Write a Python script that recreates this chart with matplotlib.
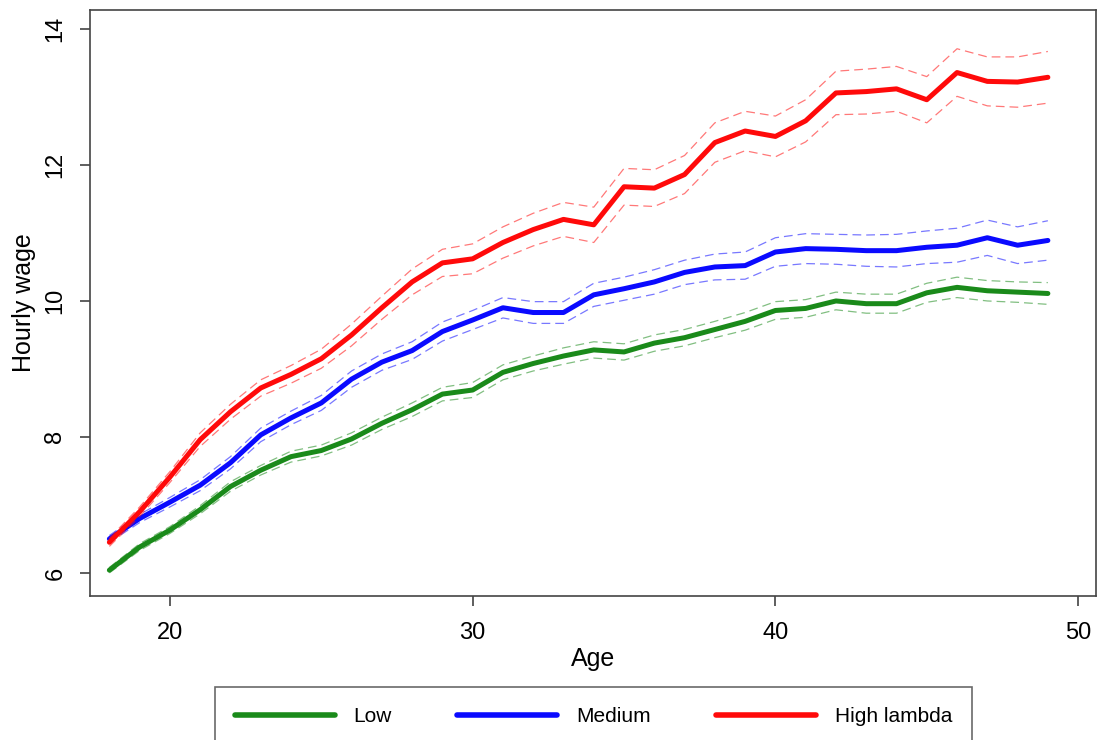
import matplotlib

matplotlib.use("Agg")
import matplotlib.pyplot as plt

plt.rcParams["font.family"] = ["Liberation Sans", "DejaVu Sans"]

# Age profile of hourly wages, three lambda groups
ages = list(range(18, 50))

wage_low = [6.04, 6.38, 6.63, 6.93, 7.27, 7.51, 7.71, 7.80, 7.97, 8.20,
            8.40, 8.63, 8.69, 8.95, 9.08, 9.19, 9.28, 9.25, 9.38, 9.46,
            9.58, 9.70, 9.86, 9.89, 10.00, 9.96, 9.96, 10.12, 10.20, 10.15,
            10.13, 10.11]
wage_medium = [6.50, 6.80, 7.04, 7.29, 7.62, 8.03, 8.28, 8.50, 8.85, 9.10,
               9.27, 9.55, 9.72, 9.90, 9.83, 9.83, 10.09, 10.18, 10.28, 10.42,
               10.50, 10.52, 10.72, 10.77, 10.76, 10.74, 10.74, 10.79, 10.82, 10.93,
               10.82, 10.89]
wage_high = [6.45, 6.90, 7.41, 7.96, 8.37, 8.72, 8.92, 9.15, 9.50, 9.90,
             10.28, 10.56, 10.62, 10.86, 11.05, 11.20, 11.12, 11.68, 11.66, 11.86,
             12.33, 12.50, 12.42, 12.65, 13.06, 13.08, 13.12, 12.96, 13.36, 13.23,
             13.22, 13.29]

# half-width of the dashed confidence bands
ci_low = [0.04, 0.05, 0.05, 0.06, 0.07, 0.07, 0.08, 0.08, 0.09, 0.09,
          0.10, 0.10, 0.11, 0.11, 0.11, 0.12, 0.12, 0.12, 0.12, 0.12,
          0.12, 0.13, 0.13, 0.13, 0.13, 0.14, 0.14, 0.14, 0.15, 0.15,
          0.15, 0.16]
ci_medium = [0.05, 0.06, 0.07, 0.08, 0.09, 0.10, 0.10, 0.11, 0.12, 0.12,
             0.13, 0.14, 0.14, 0.15, 0.16, 0.16, 0.17, 0.17, 0.18, 0.18,
             0.19, 0.20, 0.21, 0.22, 0.22, 0.23, 0.24, 0.24, 0.25, 0.26,
             0.27, 0.29]
ci_high = [0.06, 0.07, 0.08, 0.10, 0.11, 0.12, 0.13, 0.14, 0.16, 0.17,
           0.19, 0.20, 0.22, 0.23, 0.24, 0.25, 0.26, 0.27, 0.27, 0.28,
           0.29, 0.29, 0.30, 0.31, 0.32, 0.33, 0.33, 0.34, 0.35, 0.36,
           0.37, 0.38]

series = [
    ("Low", wage_low, ci_low, "#1a8a1a"),
    ("Medium", wage_medium, ci_medium, "#0a0aff"),
    ("High lambda", wage_high, ci_high, "#ff0a0a"),
]

fig = plt.figure(figsize=(10.99, 7.40), dpi=100)
ax = fig.add_axes([90 / 1099, 1 - 596 / 740, (1096 - 90) / 1099, (596 - 10) / 740])

for name, values, ci, color in series:
    upper = [v + c for v, c in zip(values, ci)]
    lower = [v - c for v, c in zip(values, ci)]
    ax.plot(ages, upper, color=color, linewidth=0.9, alpha=0.55, dashes=(7, 4))
    ax.plot(ages, lower, color=color, linewidth=0.9, alpha=0.55, dashes=(7, 4))
    ax.plot(ages, values, color=color, linewidth=3.6, label=name, solid_capstyle="round")

ax.set_xlim(17.36, 50.59)
ax.set_ylim(5.66, 14.28)
ax.set_xticks([20, 30, 40, 50])
ax.set_yticks([6, 8, 10, 12, 14])
ax.tick_params(axis="x", length=7, width=1.1, color="#333333", pad=12, labelsize=17)
ax.tick_params(axis="y", length=7, width=1.1, color="#333333", pad=10, labelsize=17)
for label in ax.get_yticklabels():
    label.set_rotation(90)
    label.set_va("center")
for spine in ax.spines.values():
    spine.set_color("#444444")
    spine.set_linewidth(1.2)

ax.set_xlabel("Age", fontsize=18, labelpad=2)
ax.set_ylabel("Hourly wage", fontsize=18, labelpad=6)

legend = fig.legend(
    loc="upper left",
    bbox_to_anchor=(215 / 1099, 1 - 687 / 740, (972 - 215) / 1099, 0.0),
    mode="expand",
    borderaxespad=0,
    ncol=3,
    fontsize=15,
    handlelength=4.8,
    handletextpad=0.9,
    borderpad=0.95,
    fancybox=False,
    frameon=True,
)
legend.get_frame().set_edgecolor("#444444")
legend.get_frame().set_linewidth(1.2)
for line in legend.get_lines():
    line.set_linewidth(4.0)

fig.savefig("out.png", dpi=100, facecolor="white")
